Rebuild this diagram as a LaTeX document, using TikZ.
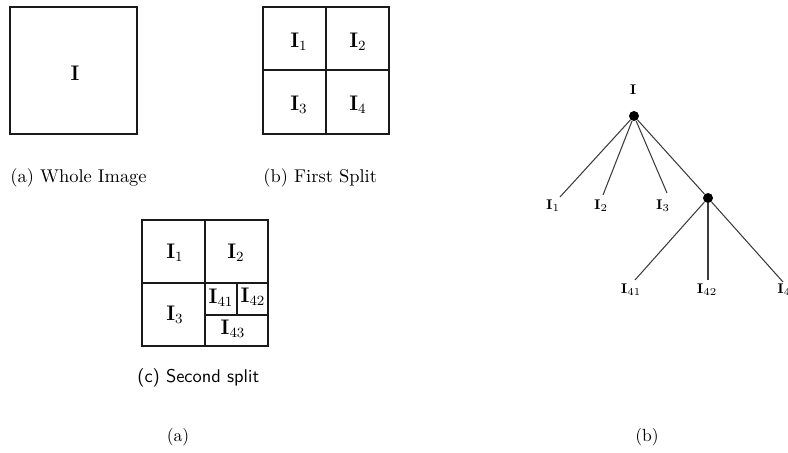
\documentclass[tikz,border=0pt]{standalone}
\usepackage{xcolor}
\usepackage{tikz}
\definecolor{QTLine}{HTML}{1A1A1A}
\definecolor{QTEdge}{HTML}{3C3C3C}
\tikzset{
  qtbox/.style={draw=QTLine,line width=1.1pt},
  qtlabel/.style={font=\large,inner sep=0pt},
  qtcap/.style={font=\fontsize{10.5}{12}\selectfont,inner sep=0pt},
  qtdot/.style={circle,fill=black,inner sep=0pt,minimum size=0.2cm},
  qtleaf/.style={font=\footnotesize,inner sep=0pt},
  qtedge/.style={QTEdge,line width=0.6pt}
}

\begin{document}
\begin{tikzpicture}[x=0.02cm,y=-0.02cm]
\path[use as bounding box] (0,0) rectangle (788,453);
\draw[qtbox] (10,7) rectangle (137,134);
\node[qtlabel] (wI) at (75,73) {$\mathbf{I}$};
\node[qtcap,anchor=west] (capa) at (10,178) {(a) Whole Image};
\draw[qtbox] (263,7) rectangle (389,134);
\draw[qtbox] (326,7) -- (326,134);
\draw[qtbox] (263,70) -- (389,70);
\node[qtlabel] (fI1) at (299,42) {$\mathbf{I}_1$};
\node[qtlabel] (fI2) at (358,42) {$\mathbf{I}_2$};
\node[qtlabel] (fI3) at (299,105) {$\mathbf{I}_3$};
\node[qtlabel] (fI4) at (358,105) {$\mathbf{I}_4$};
\node[qtcap,anchor=west] (capb) at (263,178) {(b) First Split};
\draw[qtbox] (142,220) rectangle (268,346);
\draw[qtbox] (205,220) -- (205,346);
\draw[qtbox] (142,283) -- (268,283);
\draw[qtbox] (237,283) -- (237,315);
\draw[qtbox] (205,315) -- (268,315);
\node[qtlabel] (sI1) at (175,253) {$\mathbf{I}_1$};
\node[qtlabel] (sI2) at (236,253) {$\mathbf{I}_2$};
\node[qtlabel] (sI3) at (175,315) {$\mathbf{I}_3$};
\node[qtlabel] (sI41) at (221,298) {$\mathbf{I}_{41}$};
\node[qtlabel] (sI42) at (253,297) {$\mathbf{I}_{42}$};
\node[qtlabel] (sI43) at (233,329) {$\mathbf{I}_{43}$};
\node[qtcap,anchor=west,font=\fontsize{10.5}{12}\sffamily] (capc) at (137,378) {(c) Second split};
\node[qtcap,font=\normalsize] (suba) at (178,437) {(a)};
\node[qtcap,font=\normalsize] (subb) at (647,437) {(b)};
\node[qtleaf] (root) at (633,90) {$\mathbf{I}$};
\node[qtdot] (n0) at (634,116) {};
\node[qtdot] (n4) at (708,198) {};
\coordinate (e1) at (560,197);
\coordinate (e2) at (603,195);
\coordinate (e3) at (667,193);
\coordinate (e41) at (635,280);
\coordinate (e42) at (708,280);
\coordinate (e43) at (783,282);
\node[qtleaf] (t1) at (553,206) {$\mathbf{I}_1$};
\node[qtleaf] (t2) at (601,206) {$\mathbf{I}_2$};
\node[qtleaf] (t3) at (663,206) {$\mathbf{I}_3$};
\node[qtleaf] (t41) at (631,290) {$\mathbf{I}_{41}$};
\node[qtleaf] (t42) at (707,290) {$\mathbf{I}_{42}$};
\node[qtleaf,anchor=west] (t43) at (777,290) {$\mathbf{I}_4$};
\draw[qtedge] (n0) -- (e1);
\draw[qtedge] (n0) -- (e2);
\draw[qtedge] (n0) -- (e3);
\draw[qtedge] (n0) -- (n4);
\draw[qtedge] (n4) -- (e41);
\draw[qtedge] (n4) -- (e42);
\draw[qtedge] (n4) -- (e43);
\end{tikzpicture}
\end{document}
